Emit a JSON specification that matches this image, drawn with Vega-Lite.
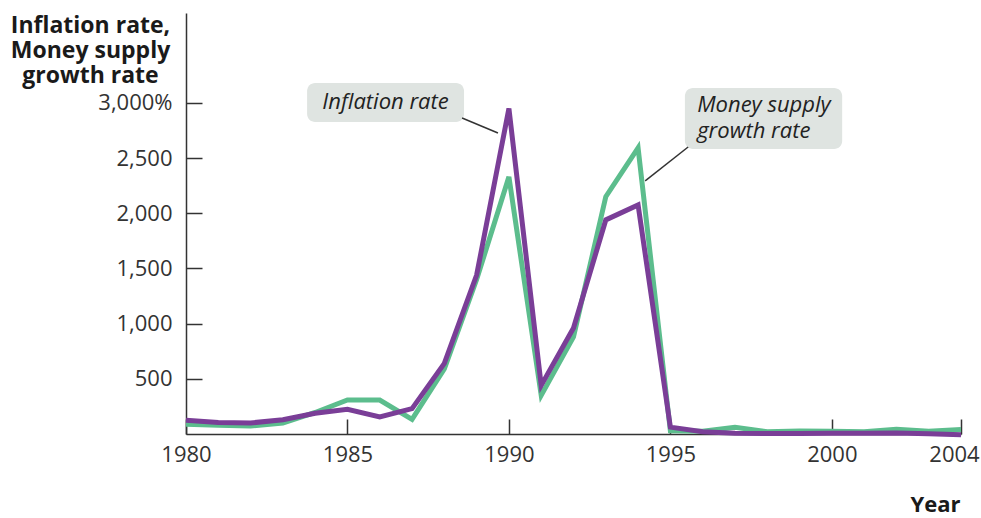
{
  "$schema": "https://vega.github.io/schema/vega-lite/v6.json",
  "width": 775,
  "height": 421,
  "autosize": {"type": "none"},
  "padding": {"left": 186, "top": 13, "right": 20, "bottom": 84},
  "config": {"view": {"stroke": null}, "font": "Open Sans"},
  "datasets": {
    "series": [
      {"year": 1980, "series": "Money supply growth rate", "value": 88},
      {"year": 1981, "series": "Money supply growth rate", "value": 80},
      {"year": 1982, "series": "Money supply growth rate", "value": 72},
      {"year": 1983, "series": "Money supply growth rate", "value": 100},
      {"year": 1984, "series": "Money supply growth rate", "value": 195},
      {"year": 1985, "series": "Money supply growth rate", "value": 308},
      {"year": 1986, "series": "Money supply growth rate", "value": 308},
      {"year": 1987, "series": "Money supply growth rate", "value": 132},
      {"year": 1988, "series": "Money supply growth rate", "value": 590},
      {"year": 1989, "series": "Money supply growth rate", "value": 1400},
      {"year": 1990, "series": "Money supply growth rate", "value": 2330},
      {"year": 1991, "series": "Money supply growth rate", "value": 350},
      {"year": 1992, "series": "Money supply growth rate", "value": 880},
      {"year": 1993, "series": "Money supply growth rate", "value": 2150},
      {"year": 1994, "series": "Money supply growth rate", "value": 2592},
      {"year": 1995, "series": "Money supply growth rate", "value": 30},
      {"year": 1996, "series": "Money supply growth rate", "value": 25},
      {"year": 1997, "series": "Money supply growth rate", "value": 60},
      {"year": 1998, "series": "Money supply growth rate", "value": 20},
      {"year": 1999, "series": "Money supply growth rate", "value": 28},
      {"year": 2000, "series": "Money supply growth rate", "value": 26},
      {"year": 2001, "series": "Money supply growth rate", "value": 20},
      {"year": 2002, "series": "Money supply growth rate", "value": 42},
      {"year": 2003, "series": "Money supply growth rate", "value": 25},
      {"year": 2004, "series": "Money supply growth rate", "value": 40},
      {"year": 1980, "series": "Inflation rate", "value": 125},
      {"year": 1981, "series": "Inflation rate", "value": 105},
      {"year": 1982, "series": "Inflation rate", "value": 100},
      {"year": 1983, "series": "Inflation rate", "value": 130},
      {"year": 1984, "series": "Inflation rate", "value": 188},
      {"year": 1985, "series": "Inflation rate", "value": 224},
      {"year": 1986, "series": "Inflation rate", "value": 155},
      {"year": 1987, "series": "Inflation rate", "value": 230},
      {"year": 1988, "series": "Inflation rate", "value": 640},
      {"year": 1989, "series": "Inflation rate", "value": 1440},
      {"year": 1990, "series": "Inflation rate", "value": 2950},
      {"year": 1991, "series": "Inflation rate", "value": 440},
      {"year": 1992, "series": "Inflation rate", "value": 960},
      {"year": 1993, "series": "Inflation rate", "value": 1940},
      {"year": 1994, "series": "Inflation rate", "value": 2076},
      {"year": 1995, "series": "Inflation rate", "value": 62},
      {"year": 1996, "series": "Inflation rate", "value": 20},
      {"year": 1997, "series": "Inflation rate", "value": 7},
      {"year": 1998, "series": "Inflation rate", "value": 5},
      {"year": 1999, "series": "Inflation rate", "value": 5},
      {"year": 2000, "series": "Inflation rate", "value": 7},
      {"year": 2001, "series": "Inflation rate", "value": 7},
      {"year": 2002, "series": "Inflation rate", "value": 10},
      {"year": 2003, "series": "Inflation rate", "value": 2},
      {"year": 2004, "series": "Inflation rate", "value": -6}
    ],
    "boxes": [
      {"label": "Inflation rate", "x1": 1983.75, "x2": 1988.61, "y1": 2828, "y2": 3181},
      {"label": "Money supply growth rate", "x1": 1995.45, "x2": 2000.32, "y1": 2583, "y2": 3136}
    ],
    "leaders": [
      {"label": "Inflation rate", "x1": 1988.55, "y1": 2864, "x2": 1989.66, "y2": 2728},
      {"label": "Money supply growth rate", "x1": 1995.55, "y1": 2601, "x2": 1994.22, "y2": 2293}
    ],
    "labelsCenter": [
      {"text": "Inflation rate", "x": 1986.18, "y": 3005}
    ],
    "labelsLeft": [
      {"text": "Money supply\ngrowth rate", "x": 1995.83, "y": 2919}
    ]
  },
  "layer": [
    {
      "data": {"name": "boxes"},
      "mark": {"type": "rect", "fill": "#dfe4e1", "cornerRadius": 8},
      "encoding": {
        "x": {"field": "x1", "type": "quantitative"},
        "x2": {"field": "x2"},
        "y": {"field": "y1", "type": "quantitative"},
        "y2": {"field": "y2"}
      }
    },
    {
      "data": {"name": "leaders"},
      "mark": {"type": "rule", "stroke": "#333333", "strokeWidth": 1.5},
      "encoding": {
        "x": {"field": "x1", "type": "quantitative"},
        "x2": {"field": "x2"},
        "y": {"field": "y1", "type": "quantitative"},
        "y2": {"field": "y2"}
      }
    },
    {
      "data": {"name": "series"},
      "transform": [{"filter": "datum.series === 'Money supply growth rate'"}],
      "mark": {"type": "line", "stroke": "#5cbd8d", "strokeWidth": 5, "strokeJoin": "miter"},
      "encoding": {
        "x": {
          "field": "year", "type": "quantitative",
          "scale": {"domain": [1980, 2004], "nice": false, "zero": false},
          "axis": {
            "values": [1980, 1985, 1990, 1995, 2000, 2004],
            "labelExpr": "'' + datum.value",
            "labelFlush": false,
            "grid": false,
            "domainColor": "#333333", "domainWidth": 1.5,
            "tickColor": "#333333", "tickWidth": 1.5, "tickSize": -15,
            "labelFontSize": 22, "labelColor": "#333333", "labelPadding": 25,
            "labelFont": "Open Sans",
            "labelOffset": {"condition": {"test": "datum.value == 2004", "value": -7}, "value": 0},
            "title": "Year", "titleFontSize": 22, "titleFontWeight": "bold", "titleColor": "#1a1a1a",
            "titleAlign": "right", "titleBaseline": "alphabetic", "titleX": 774, "titleY": 77
          }
        },
        "y": {
          "field": "value", "type": "quantitative",
          "scale": {"domain": [0, 3815], "nice": false},
          "axis": {
            "values": [500, 1000, 1500, 2000, 2500, 3000],
            "labelExpr": "datum.value === 3000 ? '3,000%' : format(datum.value, ',')",
            "labelFlush": false,
            "grid": false,
            "domainColor": "#333333", "domainWidth": 1.5,
            "tickColor": "#333333", "tickWidth": 1.5, "tickSize": -16,
            "labelFontSize": 22, "labelColor": "#333333", "labelPadding": 30,
            "labelFont": "Open Sans",
            "title": ["Inflation rate,", "Money supply", "growth rate"],
            "titleFontSize": 23, "titleFontWeight": "bold", "titleColor": "#1a1a1a",
            "titleAngle": 0, "titleAlign": "center", "titleBaseline": "alphabetic",
            "titleX": -96, "titleY": 19, "titleLineHeight": 25
          }
        }
      }
    },
    {
      "data": {"name": "series"},
      "transform": [{"filter": "datum.series === 'Inflation rate'"}],
      "mark": {"type": "line", "stroke": "#7a3e97", "strokeWidth": 5, "strokeJoin": "miter"},
      "encoding": {
        "x": {"field": "year", "type": "quantitative"},
        "y": {"field": "value", "type": "quantitative"}
      }
    },
    {
      "data": {"name": "labelsCenter"},
      "mark": {"type": "text", "align": "center", "baseline": "middle", "fontSize": 22, "fontStyle": "italic", "font": "Open Sans", "color": "#222222"},
      "encoding": {
        "x": {"field": "x", "type": "quantitative"},
        "y": {"field": "y", "type": "quantitative"},
        "text": {"field": "text"}
      }
    },
    {
      "data": {"name": "labelsLeft"},
      "mark": {"type": "text", "align": "left", "baseline": "alphabetic", "fontSize": 22, "fontStyle": "italic", "font": "Open Sans", "color": "#222222", "lineBreak": "\n", "lineHeight": 26},
      "encoding": {
        "x": {"field": "x", "type": "quantitative"},
        "y": {"field": "y", "type": "quantitative"},
        "text": {"field": "text"}
      }
    }
  ]
}
